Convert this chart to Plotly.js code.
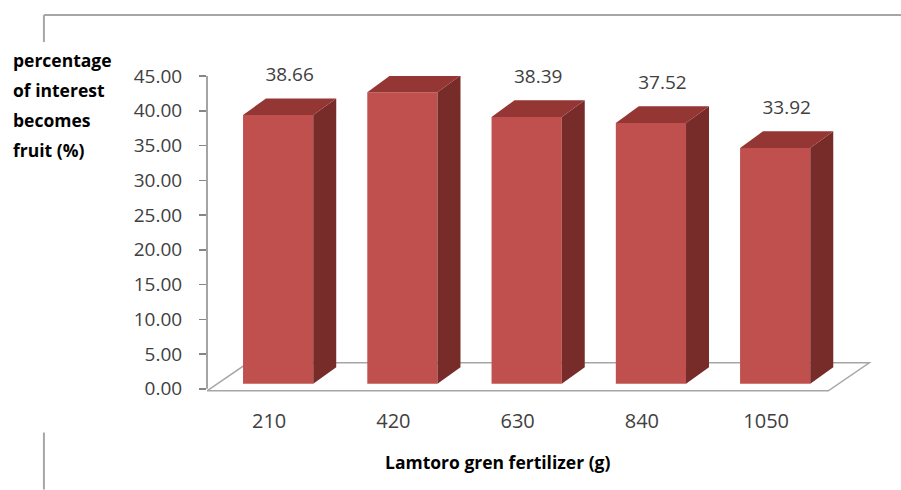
<!DOCTYPE html>
<html>
<head>
<meta charset="utf-8">
<script src="https://cdn.plot.ly/plotly-3.0.1.min.js"></script>
<style>html,body{margin:0;padding:0;background:#fff;}#chart{width:901px;height:490px;}</style>
</head>
<body>
<div id="chart"></div>
<script>
// ---- data ----
const categories = ['210', '420', '630', '840', '1050'];
const values = [38.66, 41.96, 38.39, 37.52, 33.92];
const yTickVals = [0, 5, 10, 15, 20, 25, 30, 35, 40, 45];
const yTickText = ['0.00', '5.00', '10.00', '15.00', '20.00', '25.00', '30.00', '35.00', '40.00', '45.00'];
const yTitleLines = ['percentage', 'of interest', 'becomes', 'fruit (%)'];
const xTitle = 'Lamtoro gren fertilizer (g)';

// ---- pseudo-3D geometry (styling) ----
const lift = 0.72, off = -0.21, bw = 0.565, dx = 0.185, dy = 2.4;
const frontColor = '#C0504D', topColor = '#933634', sideColor = '#772C2A';
const xs = categories.map((c, i) => i);
const FONT = 'Open Sans, sans-serif';

const traces = [];
// front faces
traces.push({
  type: 'bar', x: xs, y: values, base: values.map(() => lift), offset: off, width: bw,
  marker: {color: frontColor, line: {width: 0}}, hoverinfo: 'skip', showlegend: false
});
// side and top faces
values.forEach((v, i) => {
  const l = i + off, r = i + off + bw, b = lift, t = lift + v;
  traces.push({
    type: 'scatter', mode: 'lines', x: [r, r + dx, r + dx, r, r], y: [b, b + dy, t + dy, t, b],
    fill: 'toself', fillcolor: sideColor, line: {width: 0}, hoverinfo: 'skip', showlegend: false
  });
  traces.push({
    type: 'scatter', mode: 'lines', x: [l, r, r + dx, l + dx, l], y: [t, t, t + dy, t + dy, t],
    fill: 'toself', fillcolor: topColor, line: {width: 0}, hoverinfo: 'skip', showlegend: false
  });
});
// data labels
traces.push({
  type: 'scatter', mode: 'text', x: xs.map(i => i + off + bw / 2 + dx / 2), y: values.map(v => v + lift + dy + 3.16),
  text: values.map(v => v.toFixed(2)), textposition: 'middle center', cliponaxis: false,
  textfont: {family: FONT, size: 19, color: '#404040'}, hoverinfo: 'skip', showlegend: false
});

const L = 207, T = 76, W = 670.7, H = 317.4;
const px = p => (p - L) / W, py = p => (T + H - p) / H;

const annotations = yTitleLines.map((s, k) => ({
  text: '<b>' + s + '</b>', xref: 'paper', yref: 'paper', x: px(11), y: py(59.5 + k * 30.3),
  xanchor: 'left', yanchor: 'middle', showarrow: false, align: 'left',
  font: {family: FONT, size: 17.5, color: '#000'}
}));
annotations.push({
  text: '<b>' + xTitle + '</b>', xref: 'paper', yref: 'paper', x: px(497), y: py(462),
  xanchor: 'center', yanchor: 'middle', showarrow: false,
  font: {family: FONT, size: 17.5, color: '#000'}
});

const borderColor = '#A6A6A6';
const shapes = [
  // floor
  {type: 'path', xref: 'x', yref: 'y', path: 'M -0.5,-0.29 L 4.5,-0.29 L 4.83,3.74 L -0.17,3.74 Z',
   fillcolor: '#ffffff', line: {color: '#A6A6A6', width: 1.5}, layer: 'below'},
  {type: 'line', xref: 'paper', yref: 'paper', x0: px(44), x1: px(901), y0: py(15), y1: py(15), line: {color: borderColor, width: 2}},
  {type: 'line', xref: 'paper', yref: 'paper', x0: px(44), x1: px(44), y0: py(15), y1: py(42), line: {color: borderColor, width: 2}},
  {type: 'line', xref: 'paper', yref: 'paper', x0: px(44), x1: px(44), y0: py(433), y1: py(490), line: {color: borderColor, width: 2}},
  {type: 'line', xref: 'paper', yref: 'y', x0: 0, x1: 0, y0: 0, y1: 45, line: {color: '#868686', width: 1.5}, layer: 'above'}
];

const layout = {
  width: 901, height: 490,
  margin: {l: L, r: 901 - L - W, t: T, b: 490 - T - H, pad: 0},
  paper_bgcolor: '#fff', plot_bgcolor: 'rgba(0,0,0,0)',
  showlegend: false, barmode: 'overlay',
  xaxis: {
    range: [-0.5, 4.9], tickvals: xs, ticktext: categories, showgrid: false, zeroline: false, showline: false,
    ticks: '', ticklabelstandoff: 14, tickfont: {family: FONT, size: 20, color: '#404040'}, fixedrange: true
  },
  yaxis: {
    range: [-0.6, 45], tickvals: yTickVals, ticktext: yTickText, showgrid: false, zeroline: false, showline: false,
    ticks: 'outside', ticklen: 7, tickwidth: 1.5, tickcolor: '#868686', ticklabelstandoff: 13,
    tickfont: {family: FONT, size: 19, color: '#404040'}, fixedrange: true
  },
  annotations: annotations, shapes: shapes
};

Plotly.newPlot('chart', traces, layout, {displayModeBar: false, staticPlot: true});
</script>
</body>
</html>
